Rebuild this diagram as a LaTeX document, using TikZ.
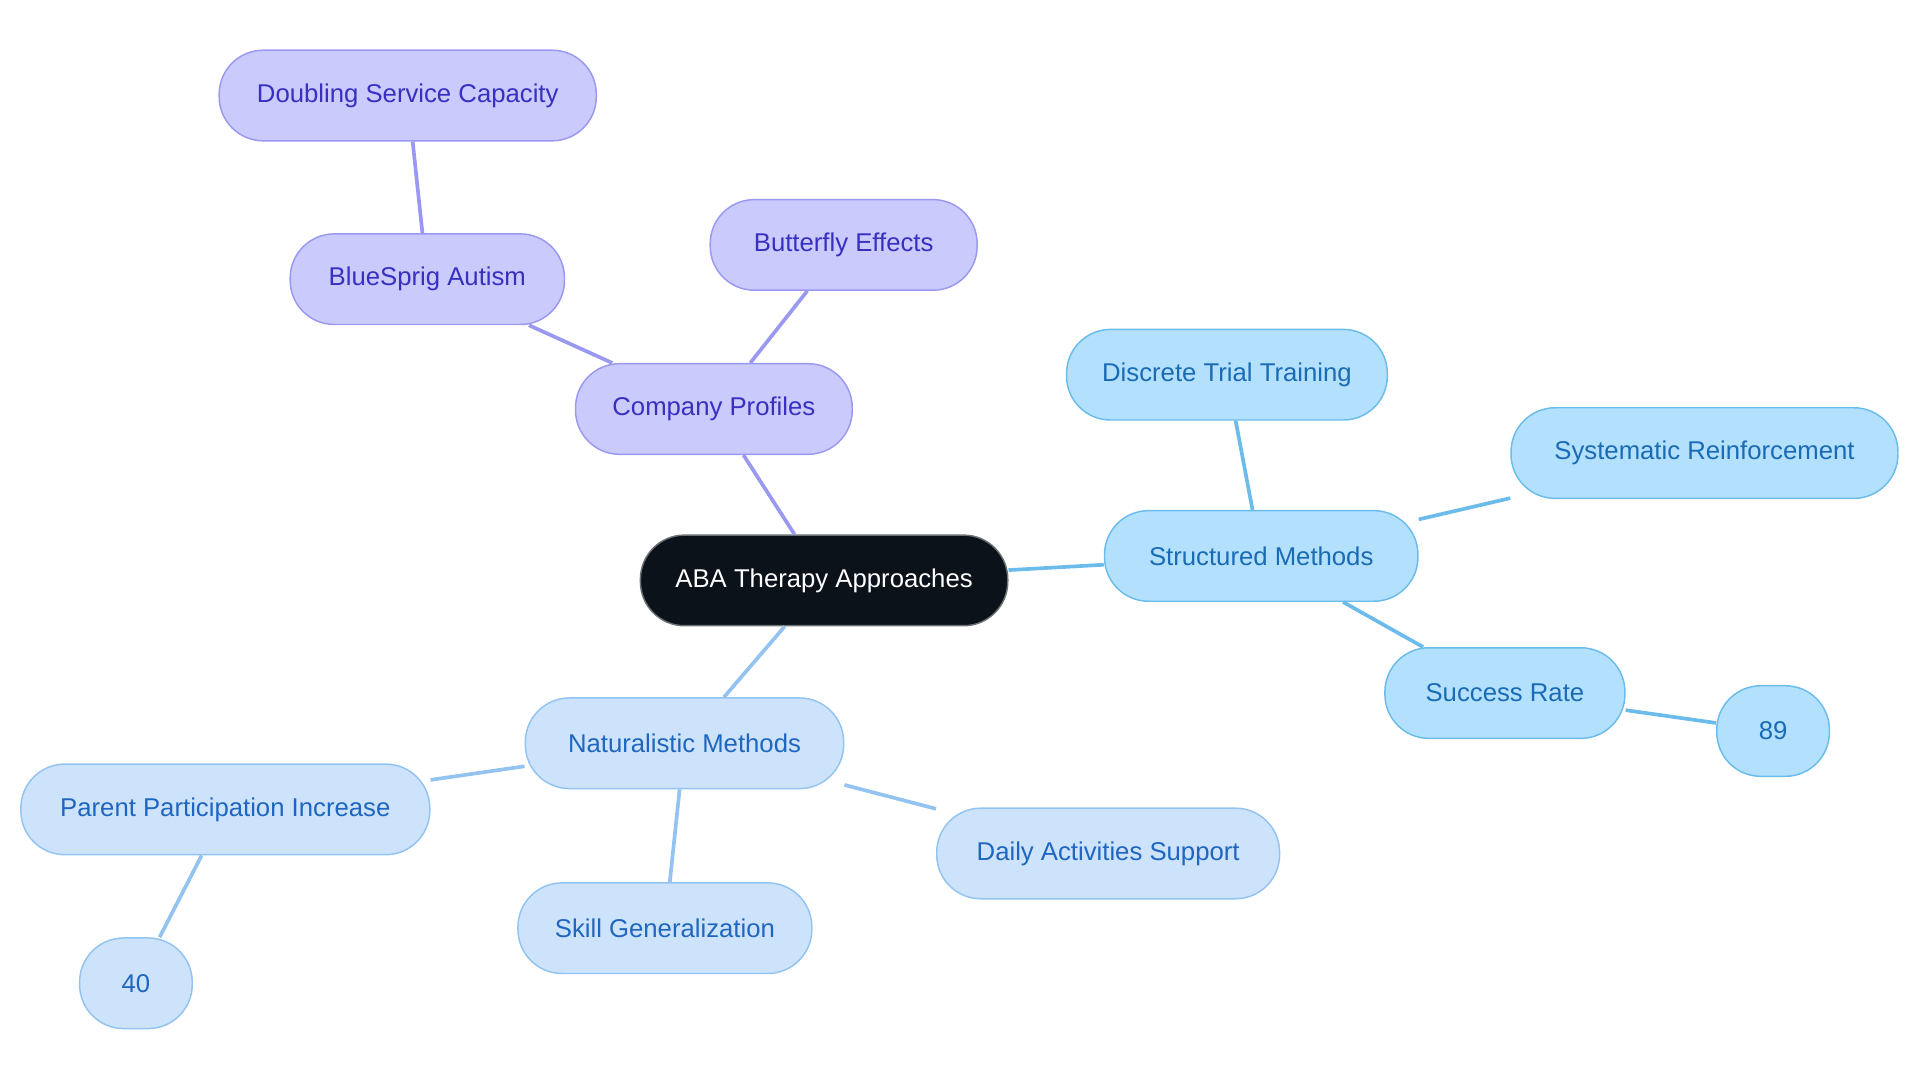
\documentclass[tikz,border=0pt]{standalone}
\usepackage{fontspec}
\setmainfont{Liberation Sans}
\definecolor{pf}{HTML}{CBCAFC}\definecolor{pd}{HTML}{9A98F0}\definecolor{pt}{HTML}{3730C0}
\definecolor{bf}{HTML}{B3E0FD}\definecolor{bd}{HTML}{6BBCEA}\definecolor{bt}{HTML}{1A6BB5}
\definecolor{lf}{HTML}{CDE3FB}\definecolor{ld}{HTML}{93C3F0}\definecolor{lt}{HTML}{1F66C0}
\definecolor{root}{HTML}{0B121A}
\begin{document}
\begin{tikzpicture}[x=0.5pt,y=-0.5pt,
 box/.style={rounded corners=18pt,minimum height=37pt,font=\fontsize{10.5}{12}\selectfont,line width=0.6pt,inner sep=0pt},
 pur/.style={box,fill=pf,draw=pd,text=pt},
 blu/.style={box,fill=bf,draw=bd,text=bt},
 lig/.style={box,fill=lf,draw=ld,text=lt},
 pe/.style={draw=pd,line width=1.5pt},
 be/.style={draw=bd,line width=1.5pt},
 le/.style={draw=ld,line width=1.5pt}]
\useasboundingbox (0,0) rectangle (1568,884);
\node[box,fill=root,draw=root!60,text=white,minimum width=150pt] (r) at (673,474) {ABA Therapy Approaches};
\node[pur,minimum width=113pt] (cp) at (583,334) {Company Profiles};
\node[pur,minimum width=109pt] (be) at (689,200) {Butterfly Effects};
\node[pur,minimum width=112pt] (bs) at (349,228) {BlueSprig Autism};
\node[pur,minimum width=154pt] (ds) at (333,78) {Doubling Service Capacity};
\node[blu,minimum width=128pt] (sm) at (1030,454) {Structured Methods};
\node[blu,minimum width=131pt] (dt) at (1002,306) {Discrete Trial Training};
\node[blu,minimum width=158pt] (sr) at (1392,370) {Systematic Reinforcement};
\node[blu,minimum width=98pt] (su) at (1229,566) {Success Rate};
\node[blu,minimum width=46pt] (n89) at (1448,597) {89};
\node[lig,minimum width=130pt] (nm) at (559,607) {Naturalistic Methods};
\node[lig,minimum width=167pt] (pp) at (184,661) {Parent Participation Increase};
\node[lig,minimum width=46pt] (n40) at (111,803) {40};
\node[lig,minimum width=120pt] (sg) at (543,758) {Skill Generalization};
\node[lig,minimum width=140pt] (da) at (905,697) {Daily Activities Support};
\begin{scope}[on background layer/.style={}]
\end{scope}
\path[pe] (r) -- (cp) (cp) -- (be) (cp) -- (bs) (bs) -- (ds);
\path[be] (r) -- (sm) (sm) -- (dt) (sm) -- (sr) (sm) -- (su) (su) -- (n89);
\path[le] (r) -- (nm) (nm) -- (pp) (pp) -- (n40) (nm) -- (sg) (nm) -- (da);
\end{tikzpicture}
\end{document}
